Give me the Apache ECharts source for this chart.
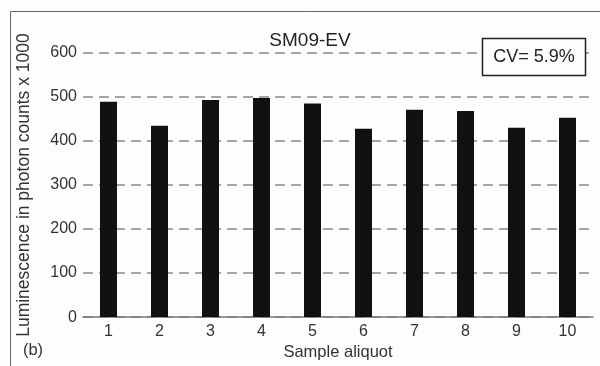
<!DOCTYPE html>
<html>
<head>
<meta charset="utf-8">
<script src="https://cdn.jsdelivr.net/npm/echarts@6/dist/echarts.min.js"></script>
<style>
  html, body { margin: 0; padding: 0; background: #fdfdfd; }
  #main { width: 600px; height: 366px; }
</style>
</head>
<body>
<div id="main"></div>
<script>
// sample aliquots and their luminescence (photon counts x 1000)
var categories = ['1', '2', '3', '4', '5', '6', '7', '8', '9', '10'];
var luminescence = [489, 435, 493, 498, 485, 428, 471, 468, 430, 453];
var titleText = 'SM09-EV';
var cvText = 'CV= 5.9%';

var font = 'Liberation Sans, Arial, sans-serif';

var option = {
    backgroundColor: '#fdfdfd',
    animation: false,
    title: {
        text: titleText,
        left: 305,
        top: 26,
        textAlign: 'center',
        textStyle: { fontFamily: font, fontSize: 19, fontWeight: 'normal', color: '#222' }
    },
    grid: { left: 83, right: 7, top: 53, bottom: 48 },
    xAxis: {
        type: 'category',
        data: categories,
        name: 'Sample aliquot',
        nameLocation: 'middle',
        nameGap: 25,
        nameTextStyle: { fontFamily: font, fontSize: 16.5, color: '#333' },
        axisLine: { lineStyle: { color: '#777', width: 1.5 } },
        axisTick: { show: false },
        axisLabel: { fontFamily: font, fontSize: 16, color: '#333', margin: 6 }
    },
    yAxis: {
        type: 'value',
        min: 0,
        max: 600,
        interval: 100,
        name: 'Luminescence in photon counts x 1000',
        nameLocation: 'middle',
        nameGap: 50,
        nameTextStyle: { fontFamily: font, fontSize: 17.5, color: '#333' },
        axisLine: { show: false },
        axisTick: { show: false },
        axisLabel: { fontFamily: font, fontSize: 16, color: '#333', margin: 6 },
        splitLine: { lineStyle: { color: '#888', width: 1.5, type: [10, 6] } }
    },
    graphic: [
        {
            type: 'rect',
            shape: { x: 10.5, y: 11.5, width: 600, height: 400 },
            style: { fill: 'none', stroke: '#666', lineWidth: 1 },
            z: 0
        },
        {
            type: 'rect',
            shape: { x: 482.5, y: 38.5, width: 103, height: 37 },
            style: { fill: '#fdfdfd', stroke: '#222', lineWidth: 1.5 },
            z: 10
        },
        {
            type: 'text',
            x: 534, y: 57,
            style: {
                text: cvText, fontFamily: font, fontSize: 18, fill: '#222',
                textAlign: 'center', textVerticalAlign: 'middle'
            },
            z: 11
        },
        {
            type: 'text',
            x: 33, y: 350,
            style: {
                text: '(b)', fontFamily: font, fontSize: 16.5, fill: '#333',
                textAlign: 'center', textVerticalAlign: 'middle'
            },
            z: 11
        }
    ],
    series: [{
        type: 'bar',
        data: luminescence,
        barWidth: 17,
        itemStyle: { color: '#111' }
    }]
};

var myChart = echarts.init(document.getElementById('main'));
myChart.setOption(option, true);
</script>
</body>
</html>
